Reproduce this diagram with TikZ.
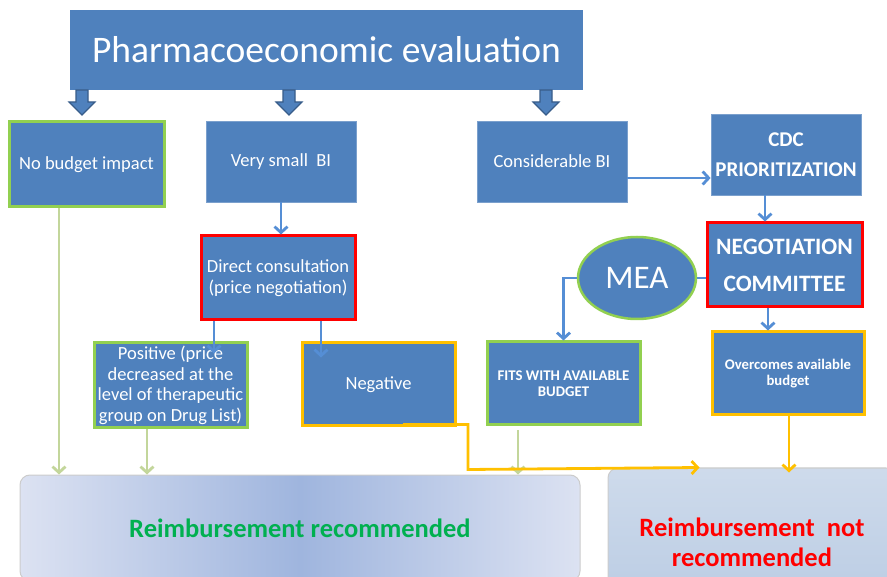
\documentclass[tikz,border=0pt]{standalone}
\usepackage{fontspec}
\setmainfont{Carlito}
\usetikzlibrary{arrows.meta,positioning,calc,shapes.geometric}

\definecolor{boxblue}{HTML}{4F81BD}
\definecolor{edgeblue}{HTML}{385D8A}
\definecolor{linkblue}{HTML}{558ED5}
\definecolor{okgreen}{HTML}{92D050}
\definecolor{palegreen}{HTML}{C3D69B}
\definecolor{warnorange}{HTML}{FFC000}
\definecolor{textgreen}{HTML}{00B050}
\definecolor{paleblue}{HTML}{DCE2F2}
\definecolor{midblue}{HTML}{9FB5DE}
\definecolor{greyblue}{HTML}{B9CBE3}

\begin{document}
\begin{tikzpicture}[x=1pt,y=-1pt,
    box/.style={rectangle,draw=boxblue!75!white,line width=0.8pt,fill=boxblue,text=white,align=center,inner sep=2pt,font=\fontsize{18.5}{21}\selectfont},
    okbox/.style={box,draw=okgreen,line width=3pt},
    stopbox/.style={box,draw=red,line width=3pt},
    warnbox/.style={box,draw=warnorange,line width=3pt},
    link/.style={draw=linkblue,line width=2.8pt,-{Straight Barb[length=6pt,width=13pt]}},
    greenlink/.style={draw=palegreen,line width=2.8pt,-{Straight Barb[length=6pt,width=13pt]}},
    orangelink/.style={draw=warnorange,line width=2.8pt,-{Straight Barb[length=6pt,width=13pt]}},
    result/.style={rectangle,rounded corners=10pt,draw=gray!40,line width=1pt,align=center,font=\bfseries\fontsize{26.5}{30}\selectfont}]
    \clip (0,0) rectangle (887,577);
    \fill[white] (0,0) rectangle (887,577);

    % --- top level ---
    \node[box,draw=none,minimum width=513pt,minimum height=80pt,font=\fontsize{37.5}{40}\selectfont] (title) at (326.5,50) {Pharmacoeconomic evaluation};
    \foreach \ax in {82,289,546}
      \draw[edgeblue,fill=boxblue,line width=1.2pt] (\ax-6,90) -- (\ax+6,90) -- (\ax+6,102) -- (\ax+13,102) -- (\ax,115) -- (\ax-13,102) -- (\ax-6,102) -- cycle;

    % --- budget impact ---
    \node[okbox,minimum width=155pt,minimum height=85pt] (nobudget) at (86.5,164.5) {No budget impact};
    \node[box,minimum width=150pt,minimum height=81pt] (small) at (281,161.5) {Very small\ \ BI};
    \node[box,minimum width=150pt,minimum height=81pt] (considerable) at (552,161.5) {Considerable BI};
    \node[box,minimum width=150pt,minimum height=81pt,font=\bfseries\fontsize{21}{30}\selectfont] (cdc) at (786,154.5) {CDC\\PRIORITIZATION};

    % --- negotiation ---
    \node[stopbox,minimum width=154pt,minimum height=84pt] (direct) at (278,278) {Direct consultation\\(price negotiation)};
    \node[stopbox,minimum width=155pt,minimum height=84pt,font=\bfseries\fontsize{23.5}{37}\selectfont] (negot) at (784.5,265) {NEGOTIATION\\COMMITTEE};
    \node[ellipse,draw=okgreen,line width=2.5pt,fill=boxblue,text=white,minimum width=118pt,minimum height=82pt,inner sep=0pt,font=\fontsize{33}{34}\selectfont] (mea) at (637,278) {MEA};

    % --- outcomes ---
    \node[okbox,minimum width=153pt,minimum height=85pt,font=\fontsize{18.5}{20.5}\selectfont] (positive) at (170.5,385.5) {Positive (price\\decreased at the\\level of therapeutic\\group on Drug List)};
    \node[warnbox,minimum width=153pt,minimum height=83pt] (negative) at (378.5,384.5) {Negative};
    \node[okbox,minimum width=153pt,minimum height=83pt,font=\bfseries\fontsize{14.8}{16}\selectfont] (fits) at (563.5,383.5) {FITS WITH AVAILABLE\\BUDGET};
    \node[warnbox,minimum width=152pt,minimum height=83pt,font=\bfseries\fontsize{14.7}{16}\selectfont] (overcomes) at (788,373.5) {Overcomes available\\budget};

    % --- decisions ---
    \node[result,left color=paleblue,right color=paleblue,middle color=midblue,text=textgreen,minimum width=560pt,minimum height=106pt] (yes) at (300,528) {Reimbursement recommended};
    \node[result,top color=greyblue!70!white,bottom color=greyblue,text=red,minimum width=288pt,minimum height=148pt] (no) at (752,542) {Reimbursement\ \ not\\recommended};

    % --- connectors ---
    \coordinate (dl) at ($(direct.south)+(-64,0)$);
    \coordinate (dr) at ($(direct.south)+(43,0)$);
    \coordinate (cb) at ($(cdc.south)+(-21,0)$);
    \coordinate (nb) at ($(negot.south)+(-16.5,0)$);
    \coordinate (gb) at ($(nobudget.south)+(-27.5,0)$);
    \coordinate (pb) at ($(positive.south)+(-23.5,0)$);
    \coordinate (fb) at ($(fits.south)+(-45.5,4)$);
    \coordinate (ob) at ($(overcomes.south)+(1,0)$);
    \draw[link] (small.south) -- (small.south |- direct.north);
    \draw[link] (dl) -- ++(0,32);
    \draw[link] (dr) -- ++(0,36);
    \draw[link] ($(considerable.east)+(0,16.5)$) -- ($(cdc.west)+(0,23.5)$);
    \draw[link] (cb) -- (cb |- negot.north);
    \draw[link] (nb) -- (nb |- overcomes.north);
    \draw[linkblue,line width=2.8pt] (mea.east) -- (mea.east -| negot.west);
    \draw[link] (mea.west) -| (fits.north);
    \draw[greenlink] (gb) -- (gb |- yes.north);
    \draw[greenlink] (pb) -- (pb |- yes.north);
    \draw[greenlink] (fb) -- (fb |- yes.north);
    \draw[orangelink] ($(negative.south)+(24.5,-3)$) -- ++(65,0) -- ++(0,45) -- ($(no.north west)+(92,0)$);
    \draw[orangelink] (ob) -- ($(ob |- no.north)+(0,5)$);
\end{tikzpicture}
\end{document}
